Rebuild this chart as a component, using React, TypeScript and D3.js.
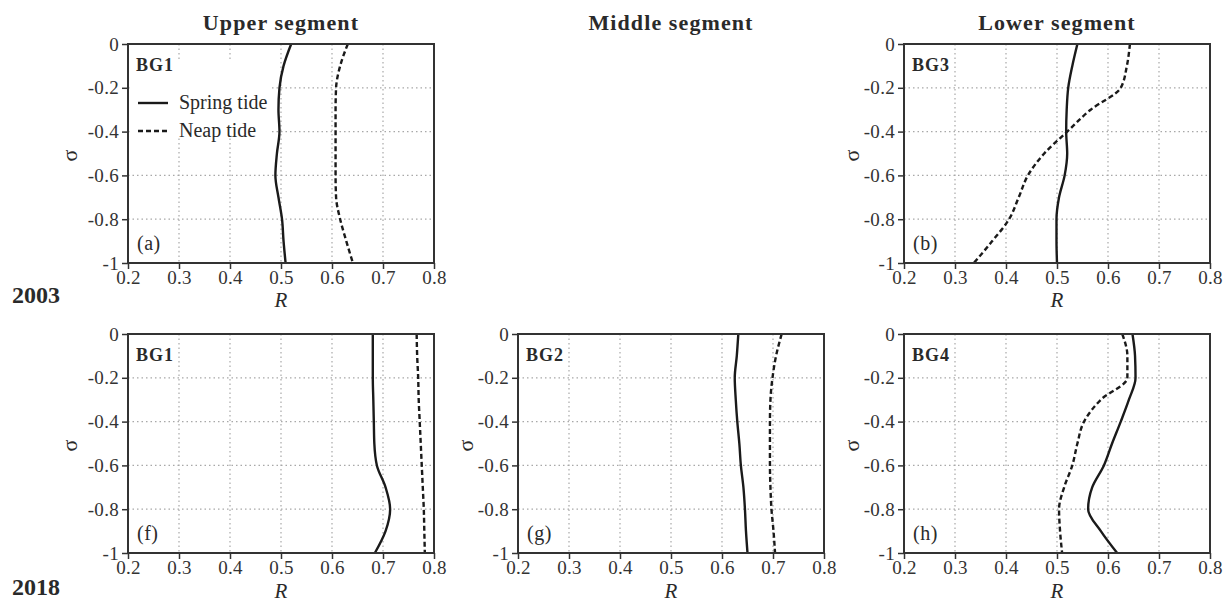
import React, { useEffect, useRef } from "react";
import * as d3 from "d3";

// sigma levels shared by every profile (surface to bottom)
const sigmaLevels = [0, -0.1, -0.2, -0.3, -0.4, -0.5, -0.6, -0.7, -0.8, -0.9, -1];

// 2003
const springBG1_2003 = [0.52, 0.505, 0.497, 0.495, 0.497, 0.492, 0.489, 0.495, 0.502, 0.505, 0.509];
const neapBG1_2003 = [0.631, 0.616, 0.608, 0.607, 0.607, 0.607, 0.607, 0.608, 0.616, 0.628, 0.641];
const springBG3_2003 = [0.54, 0.53, 0.522, 0.519, 0.518, 0.52, 0.515, 0.504, 0.499, 0.499, 0.5];
const neapBG3_2003 = [0.643, 0.637, 0.625, 0.566, 0.52, 0.475, 0.443, 0.425, 0.406, 0.373, 0.337];

// 2018
const springBG1_2018 = [0.68, 0.68, 0.68, 0.681, 0.682, 0.683, 0.688, 0.705, 0.714, 0.705, 0.684];
const neapBG1_2018 = [0.766, 0.767, 0.769, 0.77, 0.772, 0.774, 0.776, 0.778, 0.78, 0.781, 0.782];
const springBG2_2018 = [0.632, 0.629, 0.625, 0.627, 0.63, 0.634, 0.637, 0.642, 0.645, 0.647, 0.65];
const neapBG2_2018 = [0.717, 0.706, 0.699, 0.695, 0.694, 0.694, 0.694, 0.695, 0.697, 0.701, 0.704];
const springBG4_2018 = [0.648, 0.653, 0.654, 0.641, 0.625, 0.608, 0.592, 0.569, 0.561, 0.586, 0.618];
const neapBG4_2018 = [0.628, 0.638, 0.638, 0.586, 0.553, 0.54, 0.53, 0.514, 0.504, 0.506, 0.51];

const xTicks = [0.2, 0.3, 0.4, 0.5, 0.6, 0.7, 0.8];
const yTicks = [0, -0.2, -0.4, -0.6, -0.8, -1];
const columnTitles = ["Upper segment", "Middle segment", "Lower segment"];
const yearLabels = ["2003", "2018"];
const legendLabels = ["Spring tide", "Neap tide"];

const panels = [
  { col: 0, row: 0, station: "BG1", tag: "(a)", spring: springBG1_2003, neap: neapBG1_2003, legend: true },
  { col: 2, row: 0, station: "BG3", tag: "(b)", spring: springBG3_2003, neap: neapBG3_2003, legend: false },
  { col: 0, row: 1, station: "BG1", tag: "(f)", spring: springBG1_2018, neap: neapBG1_2018, legend: false },
  { col: 1, row: 1, station: "BG2", tag: "(g)", spring: springBG2_2018, neap: neapBG2_2018, legend: false },
  { col: 2, row: 1, station: "BG4", tag: "(h)", spring: springBG4_2018, neap: neapBG4_2018, legend: false },
];

const W = 1231;
const H = 602;
const colLeft = [128, 518, 904];
const rowTop = [44, 334];
const pw = 306;
const ph = 219;
const FONT = "'Liberation Serif', 'Times New Roman', serif";
const INK = "#2a2a2a";

export default function App() {
  const ref = useRef<SVGSVGElement>(null);

  useEffect(() => {
    const svg = d3.select(ref.current);
    svg.selectAll("*").remove();
    svg.style("font-family", FONT);

    const x = d3.scaleLinear().domain([0.2, 0.8]).range([0, pw]);
    const y = d3.scaleLinear().domain([0, -1]).range([0, ph]);

    // column titles
    columnTitles.forEach((t, i) => {
      svg
        .append("text")
        .attr("x", colLeft[i] + pw / 2)
        .attr("y", 30)
        .attr("text-anchor", "middle")
        .attr("font-size", 22)
        .attr("font-weight", "bold")
        .attr("letter-spacing", 1.1)
        .attr("fill", INK)
        .text(t);
    });

    // year labels
    yearLabels.forEach((t, i) => {
      svg
        .append("text")
        .attr("x", 12)
        .attr("y", i === 0 ? 303 : 595)
        .attr("font-size", 24)
        .attr("font-weight", "bold")
        .attr("fill", INK)
        .text(t);
    });

    const line = d3
      .line<number>()
      .x((d) => x(d))
      .y((d, i) => y(sigmaLevels[i]))
      .curve(d3.curveMonotoneY);

    panels.forEach((p) => {
      const g = svg
        .append("g")
        .attr("transform", `translate(${colLeft[p.col]},${rowTop[p.row]})`);

      // grid
      g.selectAll(".vgrid")
        .data(xTicks.slice(1, -1))
        .enter()
        .append("line")
        .attr("x1", (d) => x(d))
        .attr("x2", (d) => x(d))
        .attr("y1", 0)
        .attr("y2", ph)
        .attr("stroke", "#a8a8a8")
        .attr("stroke-width", 1.2)
        .attr("stroke-dasharray", "1.5,3");
      g.selectAll(".hgrid")
        .data(yTicks.slice(1, -1))
        .enter()
        .append("line")
        .attr("x1", 0)
        .attr("x2", pw)
        .attr("y1", (d) => y(d))
        .attr("y2", (d) => y(d))
        .attr("stroke", "#a8a8a8")
        .attr("stroke-width", 1.2)
        .attr("stroke-dasharray", "1.5,3");

      if (p.legend) {
        g.append("rect")
          .attr("x", 2)
          .attr("y", 17)
          .attr("width", 140)
          .attr("height", 77)
          .attr("fill", "#fff");
      }

      // profiles
      g.append("path")
        .datum(p.neap)
        .attr("d", line)
        .attr("fill", "none")
        .attr("stroke", "#1a1a1a")
        .attr("stroke-width", 2.4)
        .attr("stroke-dasharray", "5,3");
      g.append("path")
        .datum(p.spring)
        .attr("d", line)
        .attr("fill", "none")
        .attr("stroke", "#1a1a1a")
        .attr("stroke-width", 2.4);

      // frame
      g.append("rect")
        .attr("width", pw)
        .attr("height", ph)
        .attr("fill", "none")
        .attr("stroke", "#333")
        .attr("stroke-width", 2);

      // axes
      const ax = g
        .append("g")
        .attr("transform", `translate(0,${ph})`)
        .call(d3.axisBottom(x).tickValues(xTicks).tickSize(6).tickPadding(2).tickFormat((d) => String(d)));
      const ay = g
        .append("g")
        .call(d3.axisLeft(y).tickValues(yTicks).tickSize(6).tickPadding(3).tickFormat((d) => String(d)));
      [ax, ay].forEach((a) => {
        a.select(".domain").remove();
        a.selectAll("line").attr("stroke", "#333").attr("stroke-width", 1.5);
        a.selectAll("text")
          .attr("font-family", FONT)
          .attr("font-size", 19)
          .attr("letter-spacing", 0.3)
          .attr("fill", "#333");
      });

      // axis titles
      g.append("text")
        .attr("x", pw / 2)
        .attr("y", p.row === 0 ? 307 - rowTop[0] : 598 - rowTop[1])
        .attr("text-anchor", "middle")
        .attr("font-size", 21)
        .attr("font-style", "italic")
        .attr("fill", INK)
        .text("R");
      g.append("text")
        .attr("transform", `translate(${p.col === 0 ? -59 : -53},${ph / 2 + 2}) rotate(-90)`)
        .attr("text-anchor", "middle")
        .attr("dy", "0.35em")
        .attr("font-size", 22)
        .attr("fill", INK)
        .text("σ");

      // station and panel tag
      g.append("text")
        .attr("x", 8)
        .attr("y", 27)
        .attr("font-size", 18)
        .attr("font-weight", "bold")
        .attr("letter-spacing", 1)
        .attr("fill", INK)
        .text(p.station);
      g.append("text")
        .attr("x", 9)
        .attr("y", 206)
        .attr("font-size", 20)
        .attr("letter-spacing", 0.5)
        .attr("fill", INK)
        .text(p.tag);

      if (p.legend) {
        legendLabels.forEach((lab, i) => {
          const ly = 59 + i * 28;
          g.append("line")
            .attr("x1", 10)
            .attr("x2", 40)
            .attr("y1", ly)
            .attr("y2", ly)
            .attr("stroke", "#1a1a1a")
            .attr("stroke-width", 2.4)
            .attr("stroke-dasharray", i === 0 ? null : "5,3");
          g.append("text")
            .attr("x", 51)
            .attr("y", ly + 6)
            .attr("font-size", 20)
            .attr("fill", INK)
            .text(lab);
        });
      }
    });
  }, []);

  return (
    <svg
      ref={ref}
      width={W}
      height={H}
      style={{ position: "absolute", left: 0, top: 0, background: "#fff" }}
    />
  );
}
